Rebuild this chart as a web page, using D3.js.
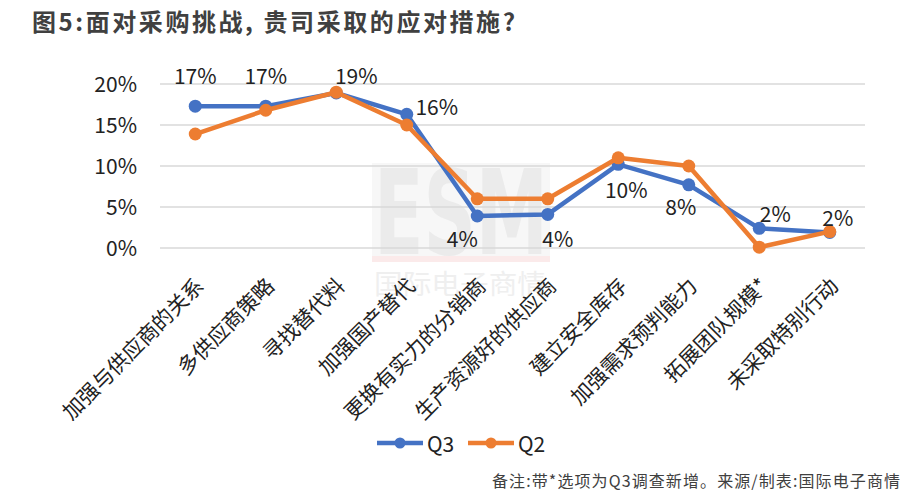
<!DOCTYPE html>
<html><head><meta charset="utf-8">
<script src="https://cdn.jsdelivr.net/npm/d3@7/dist/d3.min.js"></script>
<style>
html,body{margin:0;padding:0;background:#fff;}
svg{display:block;font-family:"Noto Sans CJK SC","Noto Sans",sans-serif;}
</style></head>
<body>
<script>
// ---- data ----
const categories = ["加强与供应商的关系","多供应商策略","寻找替代料","加强国产替代","更换有实力的分销商","生产资源好的供应商","建立安全库存","加强需求预判能力","拓展团队规模*","未采取特别行动"];
const q3Values = [0.173, 0.173, 0.189, 0.163, 0.039, 0.041, 0.102, 0.077, 0.024, 0.019];
const q2Values = [0.139, 0.168, 0.190, 0.150, 0.060, 0.060, 0.110, 0.100, 0.001, 0.020];
const yTicks = [0, 0.05, 0.10, 0.15, 0.20];
const seriesNames = ["Q3", "Q2"];
const titleText = "图5:面对采购挑战, 贵司采取的应对措施?";
const noteText = "备注:带*选项为Q3调查新增。来源/制表:国际电子商情";

// ---- layout ----
const W = 923, H = 503;
const colors = {Q3: "#4472C4", Q2: "#ED7D31"};
const svg = d3.select("body").append("svg").attr("width", W).attr("height", H);
svg.append("rect").attr("width", W).attr("height", H).attr("fill", "#fff");

const x = d3.scalePoint().domain(categories).range([160, 865]).padding(0.5);
const y = d3.scaleLinear().domain([0, 0.2]).range([248, 84]);

// watermark
const wm = svg.append("g").attr("class", "watermark");
wm.append("rect").attr("x", 372).attr("y", 163).attr("width", 178).attr("height", 94).attr("fill", "#f7f7f7");
wm.append("text").attr("x", 374).attr("y", 254).attr("textLength", 174).attr("lengthAdjust", "spacingAndGlyphs")
  .attr("font-family", "DejaVu Sans").attr("font-weight", "bold").attr("font-size", 118).attr("fill", "#ebebeb").text("ESM");
wm.append("rect").attr("x", 372).attr("y", 256).attr("width", 178).attr("height", 6).attr("fill", "#fbeaea");
wm.append("text").attr("x", 374).attr("y", 294).attr("textLength", 172).attr("lengthAdjust", "spacingAndGlyphs")
  .attr("font-size", 27).attr("fill", "#efefef").text("国际电子商情");

// title
svg.append("text").attr("x", 32).attr("y", 31).attr("font-size", 24).attr("font-weight", "bold")
  .attr("textLength", 483).attr("lengthAdjust", "spacing")
  .attr("fill", "#404040").text(titleText);

// gridlines
svg.append("g").selectAll("line").data(yTicks).join("line")
  .attr("x1", 160).attr("x2", 865).attr("y1", d => y(d)).attr("y2", d => y(d))
  .attr("stroke", "#d9d9d9").attr("stroke-width", 1.5);

// y axis labels
const yAxis = d3.axisLeft(y).tickValues(yTicks).tickFormat(d3.format(".0%")).tickSize(0).tickPadding(0);
const ya = svg.append("g").attr("transform", "translate(137,0)").call(yAxis);
ya.select(".domain").remove();
ya.selectAll("text").attr("font-size", 21).attr("fill", "#222").attr("font-family", "\"Noto Sans CJK SC\",sans-serif").attr("dy", "0.35em");

// x axis labels
const xAxis = d3.axisBottom(x).tickSize(0).tickPadding(0);
const xa = svg.append("g").attr("transform", "translate(0,248)").call(xAxis);
xa.select(".domain").remove();
xa.selectAll(".tick text")
  .attr("font-size", 21).attr("fill", "#222").attr("font-family", "\"Noto Sans CJK SC\",sans-serif")
  .attr("text-anchor", "end").attr("dominant-baseline", "central")
  .attr("transform", "translate(3,33) rotate(-45)").attr("y", 0).attr("dy", null);

// lines
const series = [{name: "Q3", values: q3Values}, {name: "Q2", values: q2Values}];
const line = d3.line().x((d, i) => x(categories[i])).y(d => y(d));
series.forEach(s => {
  const g = svg.append("g");
  g.append("path").datum(s.values).attr("d", line).attr("fill", "none")
    .attr("stroke", colors[s.name]).attr("stroke-width", 4.5).attr("stroke-linejoin", "round");
  g.selectAll("circle").data(s.values).join("circle")
    .attr("cx", (d, i) => x(categories[i])).attr("cy", d => y(d)).attr("r", 6.5)
    .attr("fill", colors[s.name]);
});

// data labels (Q3)
const labelOffset = [[0,-31],[0,-31],[20,-18],[30,-8],[-15,22],[10,24],[8,25],[-8,21],[16,-15],[8,-15]];
svg.append("g").selectAll("text").data(q3Values).join("text")
  .attr("x", (d, i) => x(categories[i]) + labelOffset[i][0])
  .attr("y", (d, i) => y(d) + labelOffset[i][1])
  .attr("text-anchor", "middle").attr("dominant-baseline", "central")
  .attr("font-size", 21).attr("fill", "#222").text(d => d3.format(".0%")(d));

// legend
const legendX = [377, 468];
series.forEach((s, i) => {
  const lg = svg.append("g").attr("transform", `translate(${legendX[i]},443)`);
  lg.append("line").attr("x1", 0).attr("x2", 46).attr("y1", 0).attr("y2", 0)
    .attr("stroke", colors[s.name]).attr("stroke-width", 4.5);
  lg.append("circle").attr("cx", 23).attr("cy", 0).attr("r", 5.5).attr("fill", colors[s.name]);
  lg.append("text").attr("x", 50).attr("y", 0).attr("dominant-baseline", "central")
    .attr("font-size", 21).attr("fill", "#222").text(seriesNames[i]);
});

// note
svg.append("text").attr("x", 492).attr("y", 480).attr("dominant-baseline", "central")
  .attr("textLength", 408).attr("lengthAdjust", "spacing")
  .attr("font-size", 16).attr("fill", "#404040").text(noteText);
</script>
</body></html>
